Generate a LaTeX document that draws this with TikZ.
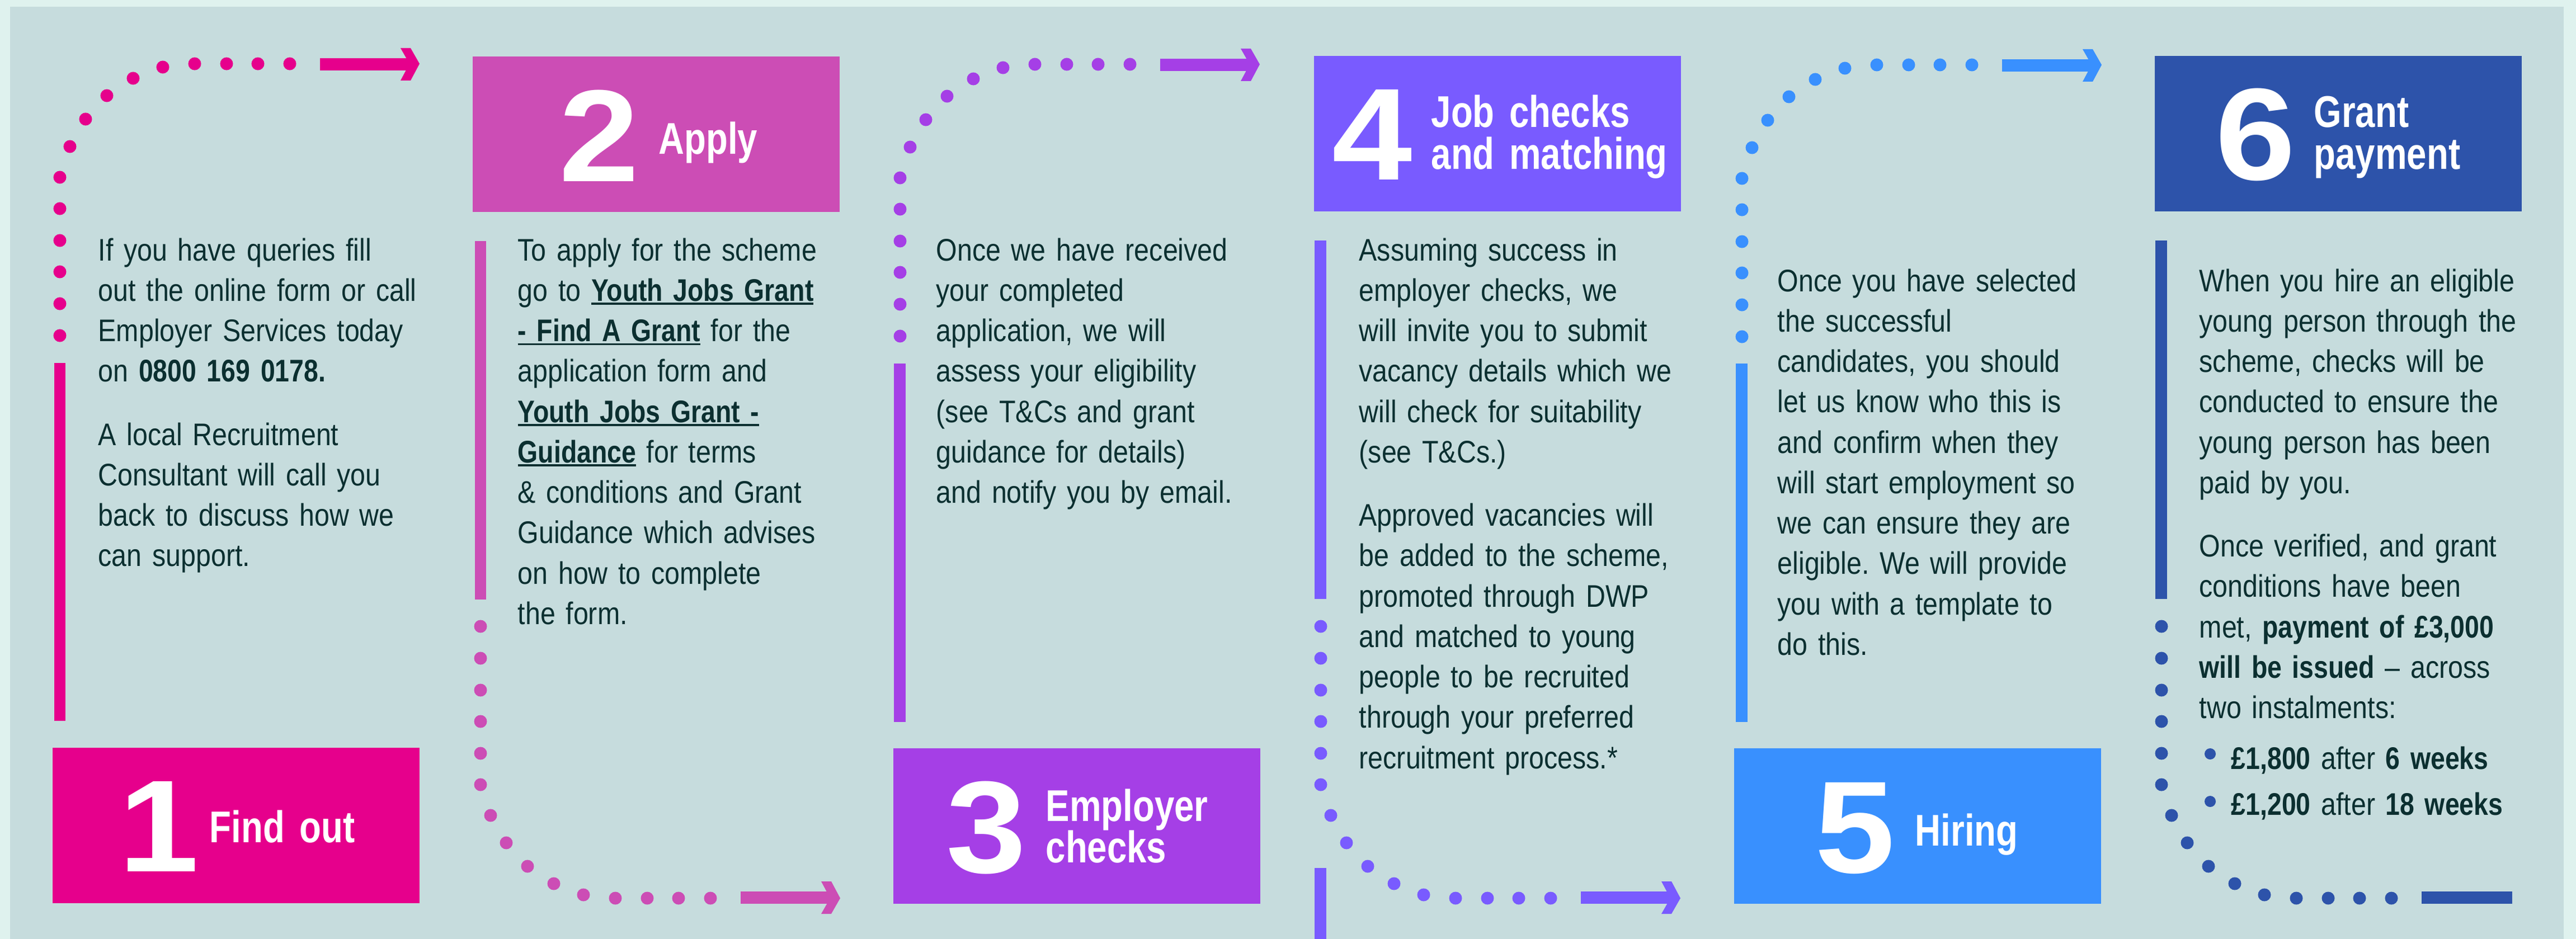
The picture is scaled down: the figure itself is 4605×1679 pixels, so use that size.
\documentclass[tikz,border=0pt]{standalone}
\usepackage{fontspec}
\setmainfont{Liberation Sans}[UprightFeatures={FakeStretch=0.865},BoldFeatures={FakeStretch=0.83}]
\newfontfamily\headfont{Liberation Sans}[FakeStretch=0.80]
\newfontfamily\digitfont{Liberation Sans}[FakeStretch=1.10]
\usetikzlibrary{positioning}
\frenchspacing

\definecolor{frame}{HTML}{DFF2EE}
\definecolor{bg}{HTML}{C6DCDD}
\definecolor{ink}{HTML}{0B2F30}
\definecolor{col1}{HTML}{E6008C}
\definecolor{col2}{HTML}{CC4DB5}
\definecolor{col3}{HTML}{A53FE6}
\definecolor{col4}{HTML}{795BFF}
\definecolor{col5}{HTML}{3990FE}
\definecolor{col6}{HTML}{2D53AA}

\newsavebox\lnkbox
\newcommand\lnk[1]{\leavevmode\sbox\lnkbox{\bfseries #1}\rlap{\rule[-0.065cm]{\wd\lnkbox}{0.035cm}}\usebox\lnkbox}

\tikzset{
  stepbox/.style={anchor=north west, minimum width=6.56cm, minimum height=2.78cm, inner sep=0pt, outer sep=0pt},
  stepnum/.style={anchor=base, inner sep=0pt, text=white, font={\digitfont\bfseries\fontsize{66.6pt}{66.6pt}\selectfont}},
  steplabel/.style={anchor=base west, inner sep=0pt, text width=6cm, align=left, text=white, font={\headfont\bfseries\fontsize{22.6pt}{21.3pt}\selectfont}},
  body/.style={anchor=base west, inner sep=0pt, text width=7cm, align=left, text=ink, font={\fontsize{15.9pt}{20.55pt}\selectfont}}
}

\begin{document}
\begin{tikzpicture}[x=0.01cm,y=-0.01cm]

	\def\dotlist{0/486,0/429,0/372,0/316,0/259,0/203,18/148,46/99,84/57,131/26,184/6,241/0,298/0,354/0,411/0}

	\useasboundingbox (0,0) rectangle (4605,1679);
	\fill[frame] (0,0) rectangle (4605,1679);
	\fill[bg] (18,12) rectangle (4583,1679);

	% dotted runs from one step to the next
	\foreach \cx/\cy/\s/\col/\head in {107/114/1/col1/1, 859/1606/-1/col2/1, 1609/115/1/col3/1, 2361/1606/-1/col4/1, 3114/116/1/col5/1, 3864/1606/-1/col6/0} {
		\begin{scope}[shift={(\cx,\cy)}, yscale=\s]
			\foreach \dx/\dy in \dotlist {
				\fill[\col] (\dx,\dy) circle (0.115cm);
			}
			\fill[\col] (465,-10) rectangle (627,12);
			\ifnum\head=1
				\fill[\col] (609,-28) -- (627,-28) -- (643,0) -- (627,30) -- (609,30) -- (625,0) -- cycle;
			\fi
		\end{scope}
	}

	% side bars
	\fill[col1] (97,649) rectangle (117,1289);
	\fill[col2] (849,431) rectangle (869,1072);
	\fill[col3] (1598,650) rectangle (1619,1291);
	\fill[col4] (2350,430) rectangle (2371,1071);
	\fill[col4] (2350,1552) rectangle (2371,1679);
	\fill[col5] (3103,650) rectangle (3124,1291);
	\fill[col6] (3853,430) rectangle (3874,1071);

	% step boxes
	\foreach \i/\bx/\by/\col/\nx/\ny/\lx/\ly/\txt in {
		1/94/1337/col1/284/1558/374/1506/{Find out},
		2/845/101/col2/1071/324/1177/276/{Apply},
		3/1597/1338/col3/1763/1560/1869/1468/{Employer\\checks},
		4/2349/100/col4/2453/321/2558/228/{Job checks\\and matching},
		5/3100/1338/col5/3316/1560/3423/1512/{Hiring},
		6/3852/100/col6/4032/321/4136/228/{Grant\\payment}} {
		\node[stepbox, fill=\col] (b\i) at (\bx,\by) {};
		\node[stepnum] (n\i) at (\nx,\ny) {\i};
		\node[steplabel] (h\i) at (\lx,\ly) {\txt};
	}

	% texts
	\node[body] (t1) at (175,466) {If you have queries fill\\ out the online form or call\\ Employer Services today\\ on \textbf{0800 169 0178.}\\[0.41cm] A local Recruitment\\ Consultant will call you\\ back to discuss how we\\ can support.};

	\node[body] (t2) at (925,466) {To apply for the scheme\\ go to \lnk{Youth Jobs Grant}\\ \lnk{- Find A Grant} for the\\ application form and\\ \lnk{Youth Jobs Grant -}\\ \lnk{Guidance} for terms\\ \& conditions and Grant\\ Guidance which advises\\ on how to complete\\ the form.};

	\node[body] (t3) at (1673,466) {Once we have received\\ your completed\\ application, we will\\ assess your eligibility\\ (see T\&Cs and grant\\ guidance for details)\\ and notify you by email.};

	\node[body] (t4) at (2429,466) {Assuming success in\\ employer checks, we\\ will invite you to submit\\ vacancy details which we\\ will check for suitability\\ (see T\&Cs.)\\[0.41cm] Approved vacancies will\\ be added to the scheme,\\ promoted through DWP\\ and matched to young\\ people to be recruited\\ through your preferred\\ recruitment process.*};

	\node[body] (t5) at (3177,521) {Once you have selected\\ the successful\\ candidates, you should\\ let us know who this is\\ and confirm when they\\ will start employment so\\ we can ensure they are\\ eligible. We will provide\\ you with a template to\\ do this.};

	\node[body] (t6) at (3931,521) {When you hire an eligible\\ young person through the\\ scheme, checks will be\\ conducted to ensure the\\ young person has been\\ paid by you.\\[0.41cm] Once verified, and grant\\ conditions have been\\ met, \textbf{payment of £3,000}\\ \textbf{will be issued} – across\\ two instalments:};

	\fill[col6] (3951,1348) circle (0.1cm);
	\fill[col6] (3951,1433) circle (0.1cm);
	\node[body] (l1) at (3988,1375) {\textbf{£1,800} after \textbf{6 weeks}};
	\node[body] (l2) at (3988,1457) {\textbf{£1,200} after \textbf{18 weeks}};

\end{tikzpicture}
\end{document}
